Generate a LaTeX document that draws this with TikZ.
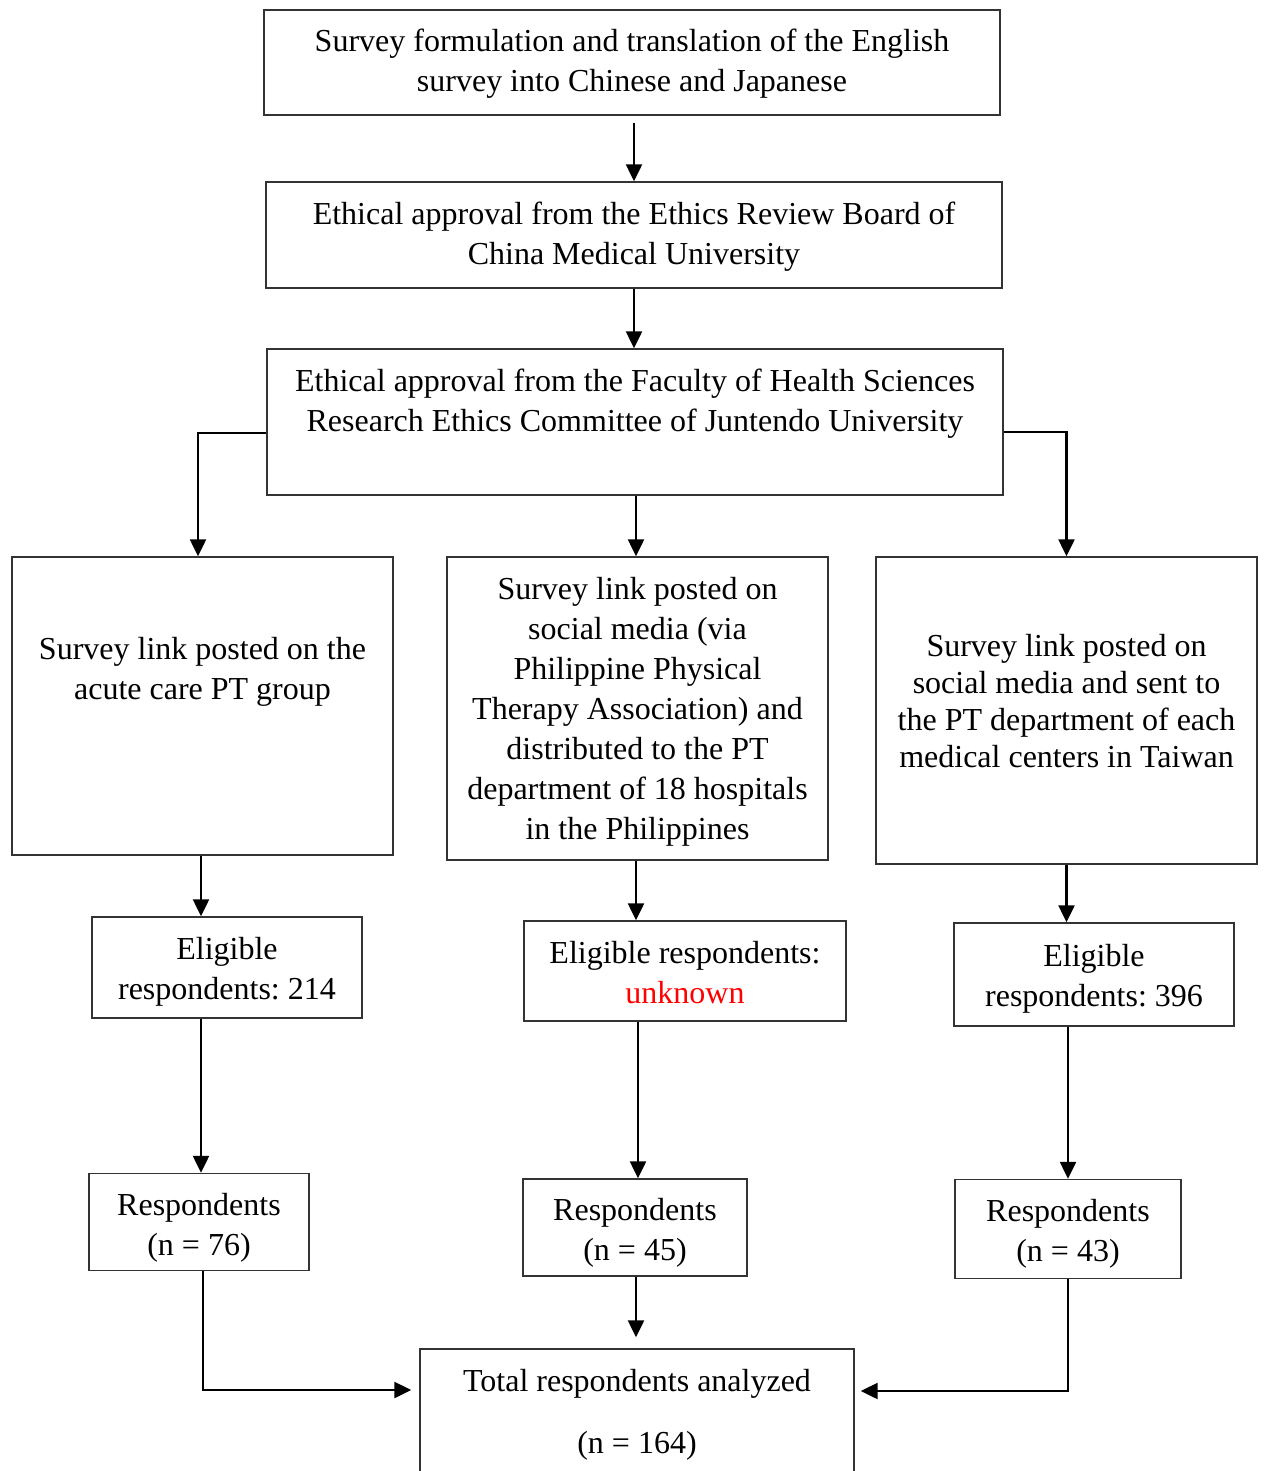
\documentclass[tikz,border=0pt]{standalone}
\usepackage{fontspec}
\setmainfont{Liberation Serif}
\usetikzlibrary{arrows.meta}
\begin{document}
\begin{tikzpicture}[x=1pt,y=-1pt,
  box/.style={draw=black!80, line width=1.4pt, rectangle, inner sep=0pt},
  txt/.style={inner sep=0pt, align=center, font=\fontsize{32}{40}\selectfont\frenchspacing},
  arr/.style={draw=black, line width=2.3pt, -{Triangle[length=17pt,width=16pt]}}
]
\path[use as bounding box, clip] (0,0) rectangle (1263,1471);
% boxes
\node[box, minimum width=736pt, minimum height=105pt] (b1) at (632,62.5) {};
\node[box, minimum width=736pt, minimum height=106pt] (b2) at (634,235) {};
\node[box, minimum width=736pt, minimum height=146pt] (b3) at (635,422) {};
\node[box, minimum width=381pt, minimum height=298pt] (bl) at (202.5,706) {};
\node[box, minimum width=381pt, minimum height=303pt] (bm) at (637.5,708.5) {};
\node[box, minimum width=381pt, minimum height=307pt] (br) at (1066.5,710.5) {};
\node[box, minimum width=270pt, minimum height=101pt] (el) at (227,967.5) {};
\node[box, minimum width=322pt, minimum height=100pt] (em) at (685,971) {};
\node[box, minimum width=280pt, minimum height=103pt] (er) at (1094,974.5) {};
\node[box, minimum width=220pt, minimum height=97pt] (rl) at (199,1222) {};
\node[box, minimum width=224pt, minimum height=97pt] (rm) at (635,1227.5) {};
\node[box, minimum width=226pt, minimum height=99pt] (rr) at (1068,1229) {};
\node[box, minimum width=434pt, minimum height=151pt] (tot) at (637,1424.5) {};
% texts
\node[txt] (t1) at (632,64)
  {Survey formulation and translation of the English\\survey into Chinese and Japanese};
\node[txt] (t2) at (634,237)
  {Ethical approval from the Ethics Review Board of\\China Medical University};
\node[txt] (t3) at (635,404)
  {Ethical approval from the Faculty of Health Sciences\\Research Ethics Committee of Juntendo University};
\node[txt] (tl) at (202.5,672) {Survey link posted on the\\acute care PT group};
\node[txt] (tm) at (637.5,711.5)
  {Survey link posted on\\social media (via\\Philippine Physical\\Therapy Association) and\\distributed to the PT\\department of 18 hospitals\\in the Philippines};
\node[txt, font=\fontsize{32}{37}\selectfont\frenchspacing] (tr) at (1066.5,701)
  {Survey link posted on\\social media and sent to\\the PT department of each\\medical centers in Taiwan};
\node[txt] (tel) at (227,971.5) {Eligible\\respondents: 214};
\node[txt] (tem) at (685,973) {Eligible respondents:\\\textcolor{red}{unknown}};
\node[txt] (ter) at (1094,978.5) {Eligible\\respondents: 396};
\node[txt] (trl) at (199,1228) {Respondents\\(n = 76)};
\node[txt] (trm) at (635,1232.5) {Respondents\\(n = 45)};
\node[txt] (trr) at (1068,1234) {Respondents\\(n = 43)};
\node[txt] (tt) at (637,1415) {Total respondents analyzed\\[22pt](n = 164)};
% connectors
\draw[arr] ([yshift=-7pt]b1.south -| b2.north) -- (b2.north);
\draw[arr] (b2.south) -- (b2.south |- b3.north);
\draw[arr] ([yshift=-11pt]b3.west) -| ([xshift=-4.5pt]bl.north);
\draw[arr] ([xshift=1pt]b3.south) -- ([xshift=1pt]b3.south |- bm.north);
\draw[arr] ([yshift=-10pt]b3.east) -| (br.north);
\draw[arr] ([xshift=-1.5pt]bl.south) -- ([xshift=-1.5pt]bl.south |- el.north);
\draw[arr] ([xshift=-1.5pt]bm.south) -- ([xshift=-1.5pt]bm.south |- em.north);
\draw[arr] (br.south) -- (br.south |- er.north);
\draw[arr] ([xshift=2pt]rl.north |- el.south) -- ([xshift=2pt]rl.north);
\draw[arr] ([xshift=3pt]rm.north |- em.south) -- ([xshift=3pt]rm.north);
\draw[arr] (rr.north |- er.south) -- (rr.north);
\draw[arr, shorten >=8pt] ([xshift=4pt]rl.south) |- (tot.west |- 0,1390);
\draw[arr, shorten >=11pt] ([xshift=1pt]rm.south) -- ([xshift=1pt]rm.south |- tot.north);
\draw[arr, shorten >=6pt] (rr.south) |- (tot.east |- 0,1391);
\end{tikzpicture}
\end{document}
